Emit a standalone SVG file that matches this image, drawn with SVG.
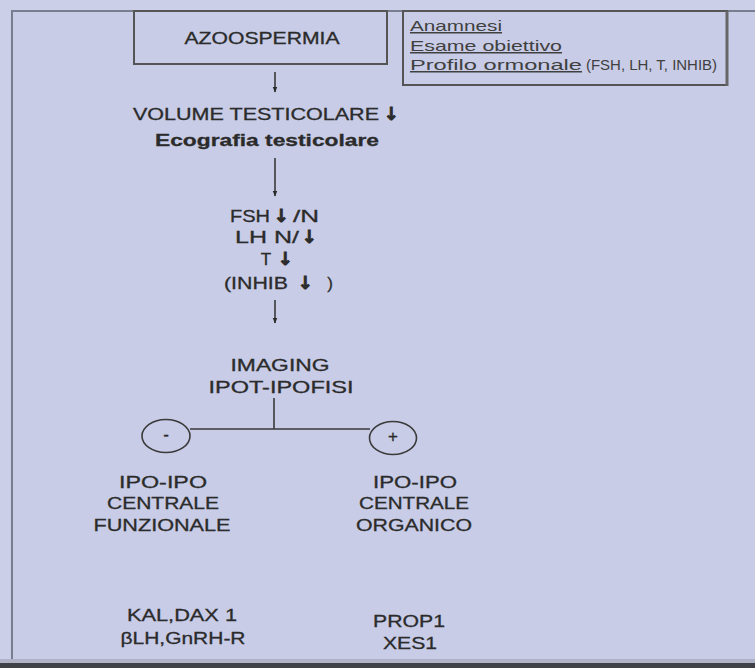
<svg xmlns="http://www.w3.org/2000/svg" width="755" height="668" viewBox="0 0 755 668">
<defs>
<marker id="ah" viewBox="0 0 10 10" refX="9" refY="5" markerWidth="6" markerHeight="6" orient="auto" markerUnits="userSpaceOnUse"><path d="M0,1 L10,5 L0,9 z" fill="#2a2a2a"/></marker>
<style>
.t{font-family:"Liberation Sans",Arial,sans-serif;font-size:17px;fill:#2b2b2b;stroke:#2b2b2b;stroke-width:0.3;text-anchor:middle}
.b{font-weight:bold}
.ar{font-family:"DejaVu Sans",sans-serif;font-weight:bold;font-size:18px;fill:#2b2b2b;stroke:#2b2b2b;stroke-width:0.9;text-anchor:middle}
.s{font-family:"Liberation Sans",Arial,sans-serif;font-size:15px;fill:#404040}
.ln{stroke:#3a3a3a;stroke-width:1.6;fill:none}
.box{fill:none;stroke:#555;stroke-width:2}
</style>
</defs>
<rect x="0" y="0" width="755" height="668" fill="#c8cce6"/>
<rect x="0" y="0" width="755" height="10" fill="#cbcfe8"/>
<rect x="0" y="0" width="10" height="668" fill="#cbcfe8"/>
<line x1="11" y1="11" x2="755" y2="11" stroke="#7a7d90" stroke-width="2"/>
<line x1="12" y1="11" x2="12" y2="663" stroke="#7a7d90" stroke-width="2"/>
<rect x="0" y="659" width="755" height="4" fill="#b0b3c8"/>
<rect x="0" y="663" width="755" height="5" fill="#3f4048"/>

<g id="n-azoo">
<rect class="box" x="134" y="11" width="253" height="53"/>
<text class="t" x="262" y="44" textLength="155" lengthAdjust="spacingAndGlyphs">AZOOSPERMIA</text>
</g>

<g id="n-exams">
<rect class="box" x="403" y="11" width="324" height="74" stroke-width="1.5"/>
<line x1="727" y1="11" x2="727" y2="86" stroke="#666" stroke-width="3"/>
<text class="s" x="410" y="31" textLength="92" lengthAdjust="spacingAndGlyphs" text-decoration="underline">Anamnesi</text>
<text class="s" x="410" y="51" textLength="152" lengthAdjust="spacingAndGlyphs" text-decoration="underline">Esame obiettivo</text>
<text class="s" x="410" y="70" textLength="172" lengthAdjust="spacingAndGlyphs" text-decoration="underline">Profilo ormonale</text>
<text class="s" x="586" y="70" font-size="9" textLength="131" lengthAdjust="spacingAndGlyphs">(FSH, LH, T, INHIB)</text>
</g>

<g id="n-volume">
<text class="t" x="256" y="120" textLength="246" lengthAdjust="spacingAndGlyphs">VOLUME TESTICOLARE</text>
<text class="ar" x="391" y="120">↓</text>
<text class="t b" x="267" y="146" textLength="224" lengthAdjust="spacingAndGlyphs">Ecografia testicolare</text>
</g>

<g id="n-hormones">
<text class="t" x="250" y="222" textLength="40" lengthAdjust="spacingAndGlyphs">FSH</text>
<text class="ar" x="281" y="222">↓</text>
<text class="t" x="306" y="222" textLength="26" lengthAdjust="spacingAndGlyphs">/N</text>
<text class="t" x="267" y="243" textLength="64" lengthAdjust="spacingAndGlyphs">LH N/</text>
<text class="ar" x="309" y="243">↓</text>
<text class="t" x="266" y="265">T</text>
<text class="ar" x="285" y="265">↓</text>
<text class="t" x="256" y="289" textLength="64" lengthAdjust="spacingAndGlyphs">(INHIB</text>
<text class="ar" x="305" y="289">↓</text>
<text class="t" x="330" y="289">)</text>
</g>

<g id="n-imaging">
<text class="t" x="280" y="371" textLength="99" lengthAdjust="spacingAndGlyphs">IMAGING</text>
<text class="t" x="281" y="393" textLength="145" lengthAdjust="spacingAndGlyphs">IPOT-IPOFISI</text>
</g>

<g id="n-minus">
<ellipse cx="166" cy="436" rx="24" ry="16.5" class="ln" stroke-width="1.3"/>
<text class="t" x="166" y="440" font-size="11" stroke-width="0">-</text>
</g>
<g id="n-plus">
<ellipse cx="393" cy="438" rx="23.5" ry="16.5" class="ln" stroke-width="1.3"/>
<text class="t" x="393" y="442" font-size="12" stroke-width="0">+</text>
</g>

<g id="n-funz">
<text class="t" x="163" y="488" textLength="88" lengthAdjust="spacingAndGlyphs">IPO-IPO</text>
<text class="t" x="163" y="509" textLength="112" lengthAdjust="spacingAndGlyphs">CENTRALE</text>
<text class="t" x="162" y="531" textLength="137" lengthAdjust="spacingAndGlyphs">FUNZIONALE</text>
</g>
<g id="n-organ">
<text class="t" x="415" y="488" textLength="84" lengthAdjust="spacingAndGlyphs">IPO-IPO</text>
<text class="t" x="414" y="509" textLength="110" lengthAdjust="spacingAndGlyphs">CENTRALE</text>
<text class="t" x="414" y="531" textLength="116" lengthAdjust="spacingAndGlyphs">ORGANICO</text>
</g>

<g id="n-genes-left">
<text class="t" x="182" y="621" textLength="110" lengthAdjust="spacingAndGlyphs">KAL,DAX 1</text>
<text class="t" x="183" y="644" textLength="125" lengthAdjust="spacingAndGlyphs">βLH,GnRH-R</text>
</g>
<g id="n-genes-right">
<text class="t" x="409" y="627" textLength="72" lengthAdjust="spacingAndGlyphs">PROP1</text>
<text class="t" x="410" y="649" textLength="54" lengthAdjust="spacingAndGlyphs">XES1</text>
</g>

<g id="connectors">
<line class="ln" x1="275" y1="72" x2="275" y2="92" marker-end="url(#ah)"/>
<line class="ln" x1="275" y1="158" x2="275" y2="196" marker-end="url(#ah)"/>
<line class="ln" x1="275" y1="300" x2="275" y2="323" marker-end="url(#ah)"/>
<line class="ln" x1="274" y1="398" x2="274" y2="429"/>
<line class="ln" x1="190" y1="429" x2="370" y2="429"/>
</g>
</svg>
